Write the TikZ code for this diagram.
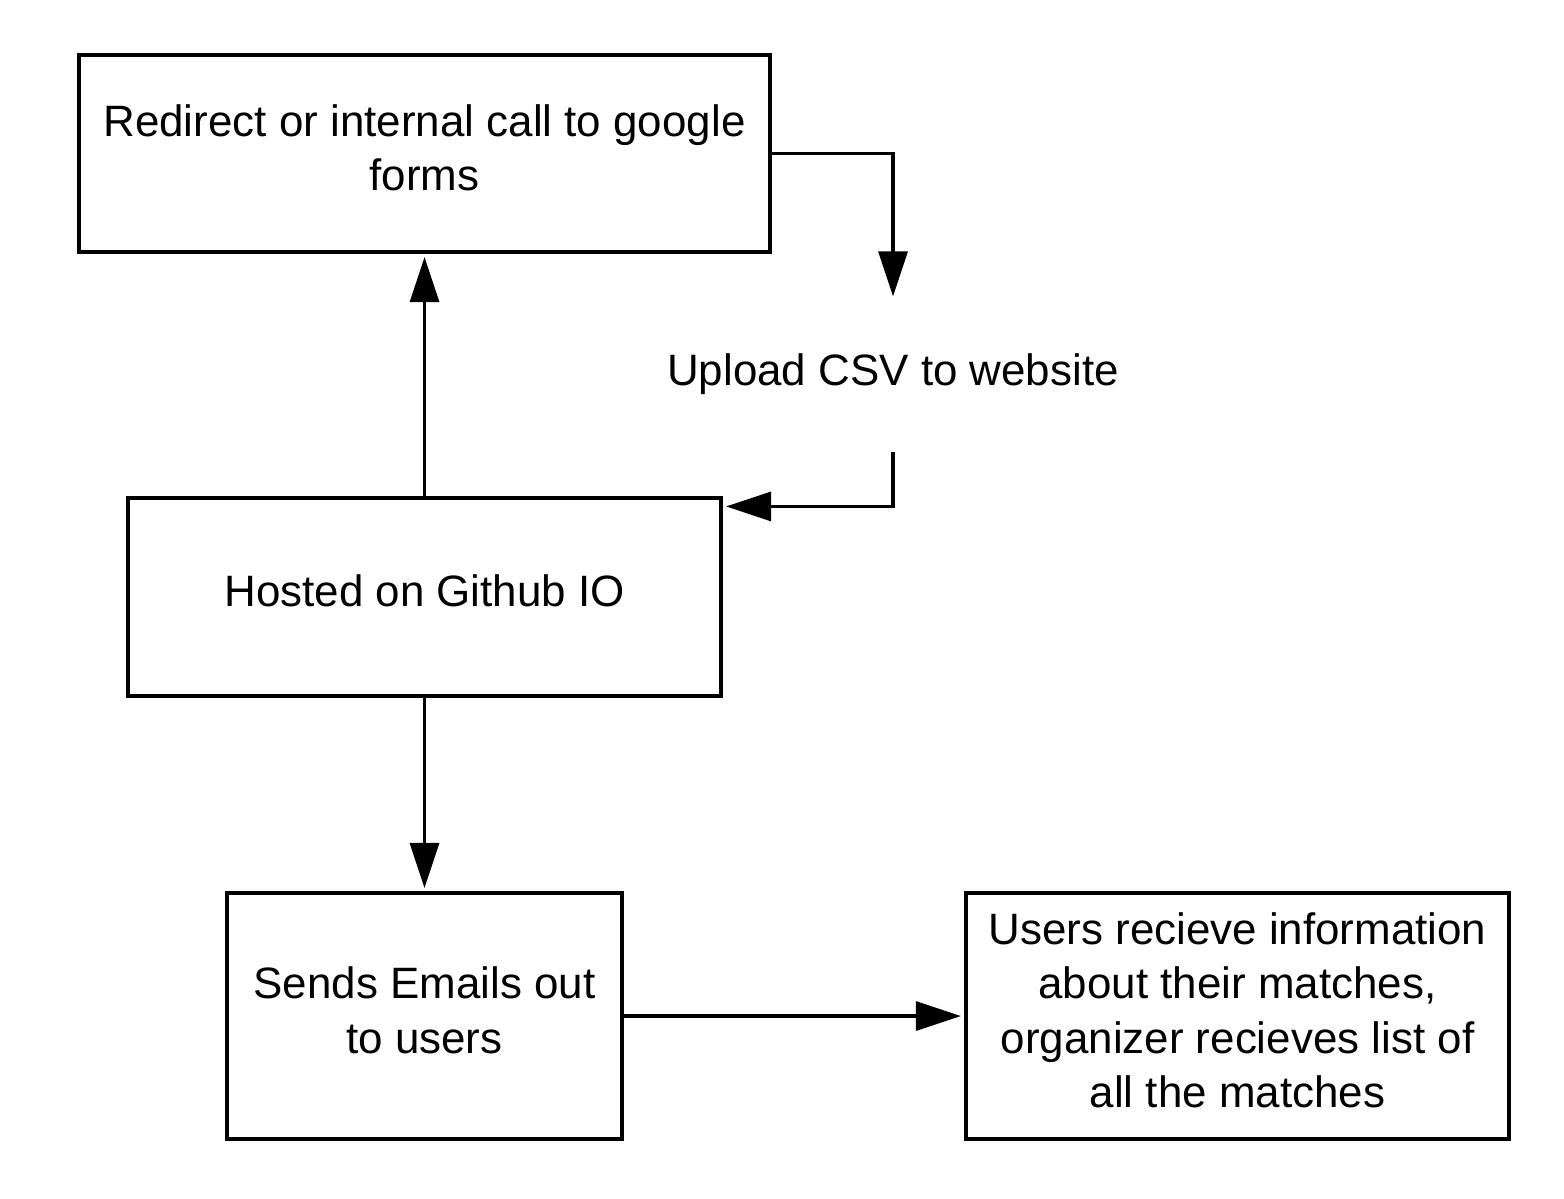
\documentclass[tikz,border=0pt]{standalone}
\usepackage{fontspec}
\setmainfont{Liberation Sans}
\usetikzlibrary{positioning, arrows.meta, calc}
\tikzstyle{bx}=[%
      rectangle, draw=black, line width=1.8pt, fill=none,
      align=center, inner sep=6pt, text depth=7pt, font=\fontsize{25}{31}\selectfont
]
\tikzstyle{lbl}=[%
      rectangle, draw=none, fill=none,
      align=center, inner sep=0pt, font=\fontsize{25}{31}\selectfont
]

\begin{document}
\begin{tikzpicture}[x=0.02cm, y=-0.02cm,
    line width=1.8pt,
    -{Triangle[length=9mm,width=5.8mm]}
  ]
    \useasboundingbox (0,0) rectangle (1564,1198);

    \node[bx, minimum width=13.82cm, minimum height=3.94cm] (forms) at (424.5,153.5)
      {Redirect or internal call to google\\forms};
    \node[lbl, minimum width=9.1cm, minimum height=3.04cm] (csv) at (893,374)
      {Upload CSV to website};
    \node[bx, minimum width=11.86cm, minimum height=3.96cm] (github) at (424.5,597)
      {Hosted on Github IO};
    \node[bx, minimum width=7.9cm, minimum height=4.92cm] (emails) at (424.5,1016)
      {Sends Emails out\\to users};
    \node[bx, minimum width=10.86cm, minimum height=4.92cm] (users) at (1237.5,1016)
      {Users recieve information\\about their matches,\\organizer recieves list of\\all the matches};

    \draw (forms.east) -| (csv.north);
    \draw[shorten >=2pt] (csv.south) |- ([yshift=-0.2cm]github.north east);
    \draw[shorten >=2pt] (github.north) -- (forms.south);
    \draw[shorten >=2pt] (github.south) -- (emails.north);
    \draw[shorten >=2pt] (emails.east) -- (users.west);

  \end{tikzpicture}
\end{document}
